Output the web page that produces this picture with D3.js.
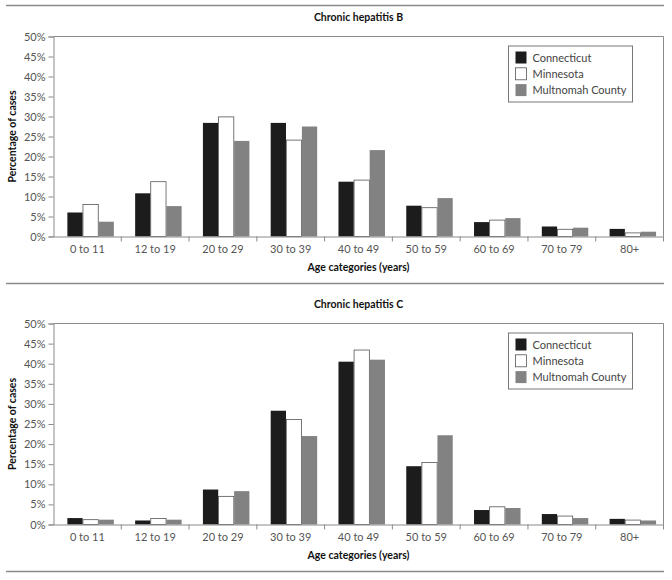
<!DOCTYPE html>
<html><head><meta charset="utf-8">
<script src="https://cdn.jsdelivr.net/npm/d3@7"></script>
<style>
body{margin:0;background:#fff;}
text{font-family:Lato,"Open Sans",sans-serif;}
</style></head>
<body><svg id="c" width="672" height="580"></svg>
<script>
const categories = ["0 to 11","12 to 19","20 to 29","30 to 39","40 to 49","50 to 59","60 to 69","70 to 79","80+"];
const seriesNames = ["Connecticut","Minnesota","Multnomah County"];
const seriesColors = ["#1c1c1c","#ffffff","#828282"];
const yTicks = [0,5,10,15,20,25,30,35,40,45,50];

const hepBConnecticut = [6.0,10.8,28.4,28.4,13.7,7.7,3.6,2.5,1.9];
const hepBMinnesota   = [8.0,13.7,29.9,24.1,14.1,7.2,4.1,1.8,0.9];
const hepBMultnomah   = [3.7,7.6,23.9,27.5,21.6,9.6,4.6,2.2,1.2];

const hepCConnecticut = [1.6,1.0,8.7,28.3,40.5,14.5,3.6,2.6,1.4];
const hepCMinnesota   = [1.2,1.5,7.0,26.1,43.4,15.4,4.4,2.1,1.1];
const hepCMultnomah   = [1.2,1.2,8.3,22.0,41.0,22.2,4.1,1.6,1.0];

const panels = [
  {title:"Chronic hepatitis B", series:[hepBConnecticut,hepBMinnesota,hepBMultnomah], top:36.5, bottom:236.5},
  {title:"Chronic hepatitis C", series:[hepCConnecticut,hepCMinnesota,hepCMultnomah], top:323.5, bottom:524.5}
];

const svg = d3.select("#c");
const left = 53.5, right = 663.5;
const axisColor = "#8a8a8a", labelColor = "#555";

// horizontal rules
[5.5, 283.5, 571.5].forEach(y=>{
  svg.append("line").attr("x1",6).attr("x2",664).attr("y1",y).attr("y2",y)
    .attr("stroke","#8a8a8a").attr("stroke-width",1.3);
});

panels.forEach(p=>{
  const g = svg.append("g");
  const x0 = d3.scaleBand().domain(categories).range([left, right]).padding(0);
  const bw = x0.bandwidth();
  const x1 = d3.scaleBand().domain(seriesNames).range([bw*0.2, bw*0.895]).padding(0.02);
  const y = d3.scaleLinear().domain([0,50]).range([p.bottom, p.top]);

  // title
  g.append("text").attr("x",(left+right)/2).attr("y",p.top-16)
    .attr("text-anchor","middle").attr("font-weight","bold").attr("font-size",10.5)
    .attr("fill","#111").text(p.title);

  // frame top/right
  g.append("path").attr("d",`M${left},${p.top}H${right}V${p.bottom}`)
    .attr("fill","none").attr("stroke",axisColor).attr("stroke-width",1);

  // bars
  categories.forEach((c,i)=>{
    seriesNames.forEach((s,j)=>{
      const v = p.series[j][i];
      g.append("rect")
        .attr("x", x0(c)+x1(s)).attr("width", x1.bandwidth())
        .attr("y", y(v)).attr("height", y(0)-y(v))
        .attr("fill", seriesColors[j])
        .attr("stroke", j===1 ? "#555" : "none").attr("stroke-width",0.8);
    });
  });

  // y axis
  const ya = g.append("g").attr("transform",`translate(${left},0)`)
    .call(d3.axisLeft(y).tickValues(yTicks).tickSize(5).tickPadding(3).tickFormat(d=>d+"%"));
  ya.select(".domain").attr("stroke",axisColor);
  ya.selectAll(".tick line").attr("stroke",axisColor);
  ya.selectAll(".tick text").attr("font-size",11).attr("fill",labelColor).attr("font-family","Lato,'Open Sans',sans-serif");

  // x axis
  const xa = g.append("g").attr("transform",`translate(0,${p.bottom})`)
    .call(d3.axisBottom(x0).tickSize(0).tickPadding(9));
  xa.select(".domain").attr("stroke",axisColor);
  xa.selectAll(".tick text").attr("font-size",11).attr("fill",labelColor).attr("font-family","Lato,'Open Sans',sans-serif");
  // boundary ticks
  categories.forEach((c,i)=>{
    if(i===0) return;
    g.append("line").attr("x1",x0(c)).attr("x2",x0(c)).attr("y1",p.bottom).attr("y2",p.bottom+5)
      .attr("stroke",axisColor);
  });
  g.append("line").attr("x1",right).attr("x2",right).attr("y1",p.bottom).attr("y2",p.bottom+5).attr("stroke",axisColor);

  // axis titles
  g.append("text").attr("x",(left+right)/2).attr("y",p.bottom+34)
    .attr("text-anchor","middle").attr("font-weight","bold").attr("font-size",10.5)
    .attr("fill","#111").text("Age categories (years)");
  g.append("text").attr("transform",`translate(16,${(p.top+p.bottom)/2}) rotate(-90)`)
    .attr("text-anchor","middle").attr("font-weight","bold").attr("font-size",10.5)
    .attr("fill","#111").text("Percentage of cases");

  // legend
  const lx = 508.5, ly = p.top + 9.5;
  const lg = g.append("g");
  lg.append("rect").attr("x",lx).attr("y",ly).attr("width",124).attr("height",56)
    .attr("fill","#fff").attr("stroke","#777").attr("stroke-width",1);
  seriesNames.forEach((s,j)=>{
    const cy = ly + 11.5 + j*16.3;
    lg.append("rect").attr("x",lx+7).attr("y",cy-6).attr("width",11).attr("height",12)
      .attr("fill",seriesColors[j]).attr("stroke", j===1 ? "#555" : "none").attr("stroke-width",0.8);
    lg.append("text").attr("x",lx+24).attr("y",cy+4).attr("font-size",11)
      .attr("fill","#444").text(s);
  });
});
</script></body></html>
